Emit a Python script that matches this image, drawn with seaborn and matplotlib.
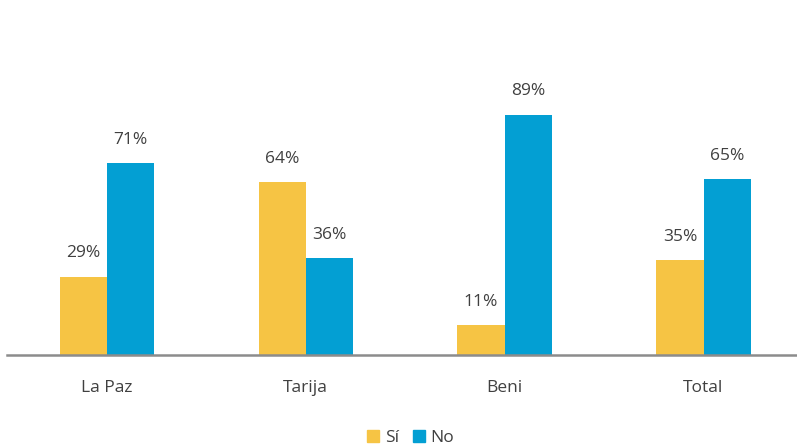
import matplotlib
matplotlib.use("Agg")
import matplotlib.pyplot as plt
import pandas as pd
import seaborn as sns

categories = ["La Paz", "Tarija", "Beni", "Total"]
si_values = [29, 64, 11, 35]
no_values = [71, 36, 89, 65]
series_names = ["Sí", "No"]
colors = ["#F6C444", "#039FD3"]

df = pd.DataFrame({
    "region": categories * 2,
    "value": si_values + no_values,
    "respuesta": [series_names[0]] * 4 + [series_names[1]] * 4,
})

sns.set_style("white")
plt.rcParams["font.family"] = ["Open Sans", "DejaVu Sans"]

fig = plt.figure(figsize=(7.97, 4.48), dpi=100)
ax = fig.add_axes([0.0094, 0.2076, 0.9906, 0.6027])

sns.barplot(data=df, x="region", y="value", hue="respuesta",
            palette=colors, width=0.475, gap=0, saturation=1,
            linewidth=0, ax=ax, legend=False)

for cont in ax.containers:
    ax.bar_label(cont, labels=[f"{v:.0f}%" for v in cont.datavalues],
                 padding=11, fontsize=12.5, color="#404040")

ax.set_xlim(-0.5, 3.47)
ax.set_ylim(0, 100)
ax.set_xlabel("")
ax.set_ylabel("")
ax.set_yticks([])
ax.tick_params(axis="x", length=0, pad=18, labelsize=12.5, labelcolor="#404040")
for s in ["top", "right", "left"]:
    ax.spines[s].set_visible(False)
ax.spines["bottom"].set_color("#8c8c8c")
ax.spines["bottom"].set_linewidth(1.8)

handles = [plt.Rectangle((0, 0), 1, 1, color=c) for c in colors]
fig.legend(handles, series_names, loc="center", bbox_to_anchor=(0.515, 0.022),
           ncol=2, frameon=False, fontsize=12.5, handlelength=0.7, handleheight=0.7,
           handletextpad=0.3, columnspacing=0.8, labelcolor="#404040")

fig.savefig("out.png", dpi=100)
